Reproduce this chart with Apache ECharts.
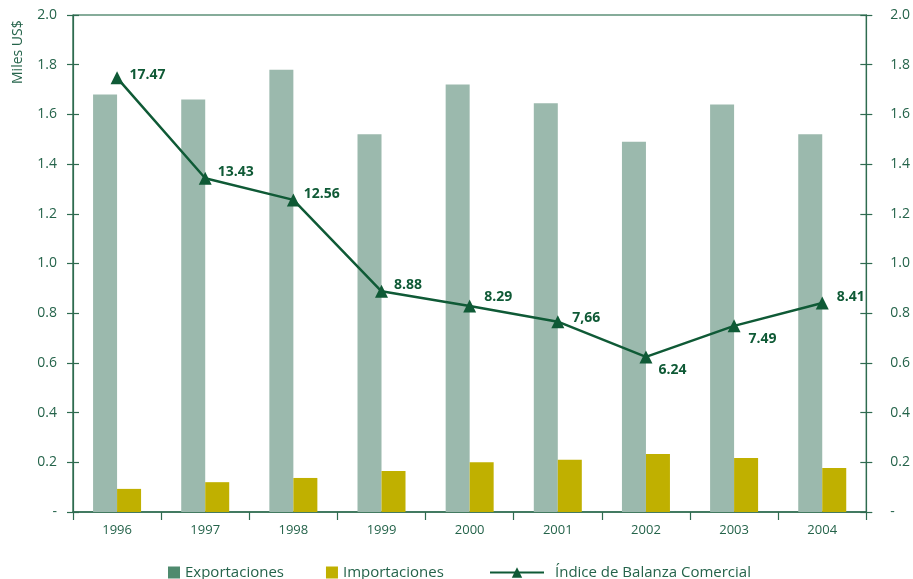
<!DOCTYPE html>
<html>
<head>
<meta charset="utf-8">
<script src="https://cdn.jsdelivr.net/npm/echarts@6/dist/echarts.min.js"></script>
<style>
  html, body { margin: 0; padding: 0; background: #fff; }
  #chart { width: 913px; height: 579px; }
</style>
</head>
<body>
<div id="chart"></div>
<script>
// datos
var years = ['1996', '1997', '1998', '1999', '2000', '2001', '2002', '2003', '2004'];
var exportaciones = [1.68, 1.66, 1.78, 1.52, 1.72, 1.645, 1.49, 1.64, 1.52];
var importaciones = [0.093, 0.12, 0.137, 0.165, 0.20, 0.21, 0.233, 0.217, 0.177];
var indice = [17.47, 13.43, 12.56, 8.88, 8.29, 7.66, 6.24, 7.49, 8.41];
var indiceTxt = ['17.47', '13.43', '12.56', '8.88', '8.29', '7,66', '6.24', '7.49', '8.41'];
var labelOffsets = [[2, -3], [2, -6], [0, -6], [2, -6], [4, -9], [4, -4], [2, 13], [4, 13], [4, -6]];

var verde = '#0f5a36';
var ejes = '#2f6b50';
var texto = '#24634a';
var fuente = 'Open Sans';

var myChart = echarts.init(document.getElementById('chart'));

var fmt = function (v) { return v === 0 ? '-' : v.toFixed(1); };
var fmt10 = function (v) { return v === 0 ? '-' : (v / 10).toFixed(1); };

var option = {
    animation: false,
    textStyle: { fontFamily: fuente },
    grid: {
        left: 73, right: 46, top: 15, bottom: 67,
        show: true, borderColor: verde, borderWidth: 1.2, backgroundColor: 'transparent'
    },
    graphic: [{
        type: 'text', x: 11, y: 84, rotation: Math.PI / 2,
        style: { text: 'Miles US$', fill: texto, font: '14px "Open Sans"', textAlign: 'left', textVerticalAlign: 'top' }
    }],
    legend: [{
        bottom: -6, left: 163, itemGap: 42, itemWidth: 12, itemHeight: 12,
        textStyle: { color: texto, fontSize: 15, fontFamily: fuente },
        data: [
            { name: 'Exportaciones', icon: 'rect', itemStyle: { color: '#4f8a6e' } },
            { name: 'Importaciones', icon: 'rect' }
        ]
    }, {
        bottom: -6, left: 484, itemWidth: 54, itemHeight: 13,
        textStyle: { color: texto, fontSize: 15, fontFamily: fuente, padding: [0, 0, 0, 6] },
        data: ['Índice de Balanza Comercial']
    }],
    xAxis: [{
        type: 'category', data: years, boundaryGap: true,
        axisLine: { lineStyle: { color: ejes, width: 1.5 } },
        axisTick: { show: true, length: 8, lineStyle: { color: ejes, width: 1.2 } },
        axisLabel: { color: texto, fontSize: 13, margin: 12 }
    }],
    yAxis: [{
        type: 'value', position: 'left', min: 0, max: 2, interval: 0.2,
        axisLine: { show: true, lineStyle: { color: ejes, width: 1.2 } },
        axisTick: { show: true, length: 6, lineStyle: { color: ejes, width: 1.2 } },
        axisLabel: { color: texto, fontSize: 14, margin: 16, formatter: fmt },
        splitLine: { show: false }
    }, {
        type: 'value', position: 'right', min: 0, max: 20, interval: 2,
        axisLine: { show: true, lineStyle: { color: ejes, width: 1.2 } },
        axisTick: { show: true, length: 6, lineStyle: { color: ejes, width: 1.2 } },
        axisLabel: { color: texto, fontSize: 14, margin: 24, formatter: fmt10 },
        splitLine: { show: false }
    }, {
        // ticks interiores izquierda
        type: 'value', position: 'left', min: 0, max: 2, interval: 0.2,
        axisLine: { show: false },
        axisTick: { show: true, inside: true, length: 6, lineStyle: { color: ejes, width: 1.2 } },
        axisLabel: { show: false }, splitLine: { show: false }
    }, {
        // ticks interiores derecha
        type: 'value', position: 'right', min: 0, max: 2, interval: 0.2,
        axisLine: { show: false },
        axisTick: { show: true, inside: true, length: 6, lineStyle: { color: ejes, width: 1.2 } },
        axisLabel: { show: false }, splitLine: { show: false }
    }],
    series: [{
        name: 'Exportaciones', type: 'bar', data: exportaciones, yAxisIndex: 0,
        barWidth: 24, barGap: '0%',
        itemStyle: { color: '#9bb9ad' }
    }, {
        name: 'Importaciones', type: 'bar', data: importaciones, yAxisIndex: 0,
        barWidth: 24,
        itemStyle: { color: '#c0b000' }
    }, {
        name: 'Índice de Balanza Comercial', type: 'line', yAxisIndex: 1, z: 5,
        data: indice.map(function (v, i) {
            return {
                value: v,
                label: { offset: labelOffsets[i] }
            };
        }),
        symbol: 'triangle', symbolSize: 13,
        lineStyle: { color: verde, width: 2.5 },
        itemStyle: { color: verde },
        label: {
            show: true, position: 'right', distance: 4,
            color: verde, fontWeight: 'bold', fontSize: 14, fontFamily: fuente,
            formatter: function (p) { return indiceTxt[p.dataIndex]; }
        }
    }]
};
myChart.setOption(option);
</script>
</body>
</html>
